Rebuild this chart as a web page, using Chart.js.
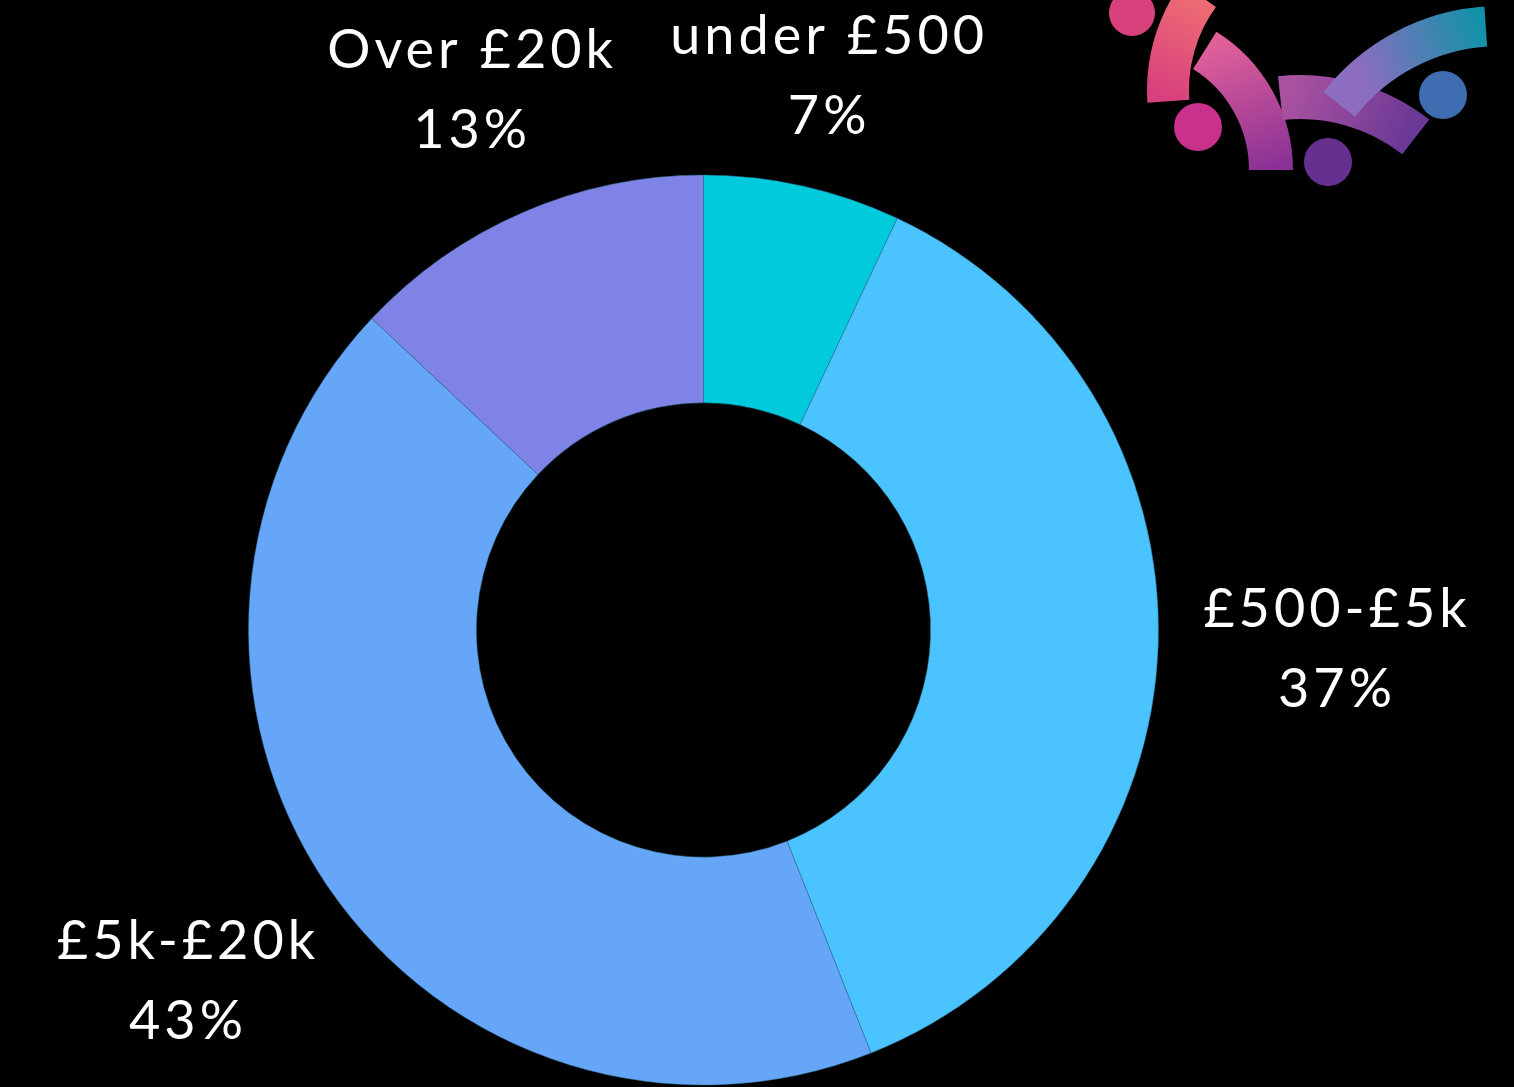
<!DOCTYPE html>
<html>
<head>
<meta charset="utf-8">
<script src="https://cdn.jsdelivr.net/npm/chart.js@4"></script>
<style>
  html, body { margin: 0; padding: 0; background: #000; }
  #wrap { width: 1514px; height: 1087px; }
</style>
</head>
<body>
<div id="wrap"><canvas id="myChart" width="1514" height="1087"></canvas></div>
<script>
var labels = ["under £500", "£500-£5k", "£5k-£20k", "Over £20k"];
var shares = [7, 37, 43, 13];
var sliceColors = ["#00CADC", "#4BC3FF", "#66A6F8", "#7F83E6"];

// little drawing of the logo in the top right corner
var logoPlugin = {
  id: "logo",
  afterDraw: function(chart) {
    var ctx = chart.ctx;
    ctx.save();
    function band(cx, cy, r, w, a1, a2, c1, c2, x1, y1, x2, y2) {
      var g = ctx.createLinearGradient(x1, y1, x2, y2);
      g.addColorStop(0, c1);
      g.addColorStop(1, c2);
      ctx.beginPath();
      ctx.arc(cx, cy, r, a1 * Math.PI / 180, a2 * Math.PI / 180);
      ctx.strokeStyle = g;
      ctx.lineWidth = w;
      ctx.lineCap = "butt";
      ctx.stroke();
    }
    function dot(x, y, r, c) {
      ctx.beginPath();
      ctx.arc(x, y, r, 0, Math.PI * 2);
      ctx.fillStyle = c;
      ctx.fill();
    }
    band(1330, 90, 162, 42, 176, 216, "#D8407E", "#EE6E72", 1160, 95, 1210, 0);
    band(1130, 170, 141, 44, -58, 0, "#E0609A", "#8A3196", 1225, 40, 1270, 170);
    band(1300, 285, 188, 44, -96, -52, "#A9529F", "#6A3896", 1290, 90, 1410, 140);
    band(1500, 230, 204, 40, -142, -94, "#8C6DC0", "#0D93A8", 1360, 70, 1485, 20);
    dot(1132, 13, 23, "#D9417C");
    dot(1198, 127, 24, "#C8318C");
    dot(1328, 162, 24, "#65308F");
    dot(1443, 95, 24, "#3F6DB2");
    ctx.restore();
  }
};

// two line labels outside each slice
var outsideLabels = {
  id: "outsideLabels",
  afterDatasetsDraw: function(chart) {
    var ctx = chart.ctx;
    var meta = chart.getDatasetMeta(0);
    ctx.save();
    ctx.fillStyle = "#fff";
    ctx.font = "54px Lato";
    ctx.letterSpacing = "4px";
    ctx.textAlign = "center";
    ctx.textBaseline = "middle";
    meta.data.forEach(function(arc, i) {
      var p = arc.getProps(["x", "y", "startAngle", "endAngle", "outerRadius"], true);
      var mid = (p.startAngle + p.endAngle) / 2;
      var dx = Math.cos(mid), dy = Math.sin(mid);
      var hw = ctx.measureText(labels[i]).width / 2;
      var hh = 36;
      var dist = p.outerRadius + 42 + Math.abs(dx) * hw + Math.abs(dy) * hh;
      var x = p.x + dx * dist, y = p.y + dy * dist;
      ctx.fillText(labels[i], x + 2, y - 40);
      ctx.fillText(shares[i] + "%", x + 2, y + 40);
    });
    ctx.restore();
  }
};

new Chart("myChart", {
  type: "doughnut",
  data: {
    labels: labels,
    datasets: [{
      data: shares,
      backgroundColor: sliceColors,
      borderColor: "#2d6f8c",
      borderWidth: 0.5,
      hoverOffset: 0
    }]
  },
  options: {
    responsive: false,
    animation: false,
    radius: 455,
    cutout: 228,
    layout: { padding: { top: 173, bottom: 0, left: 0, right: 107 } },
    plugins: {
      legend: { display: false },
      tooltip: { enabled: false }
    }
  },
  plugins: [logoPlugin, outsideLabels]
});
</script>
</body>
</html>
